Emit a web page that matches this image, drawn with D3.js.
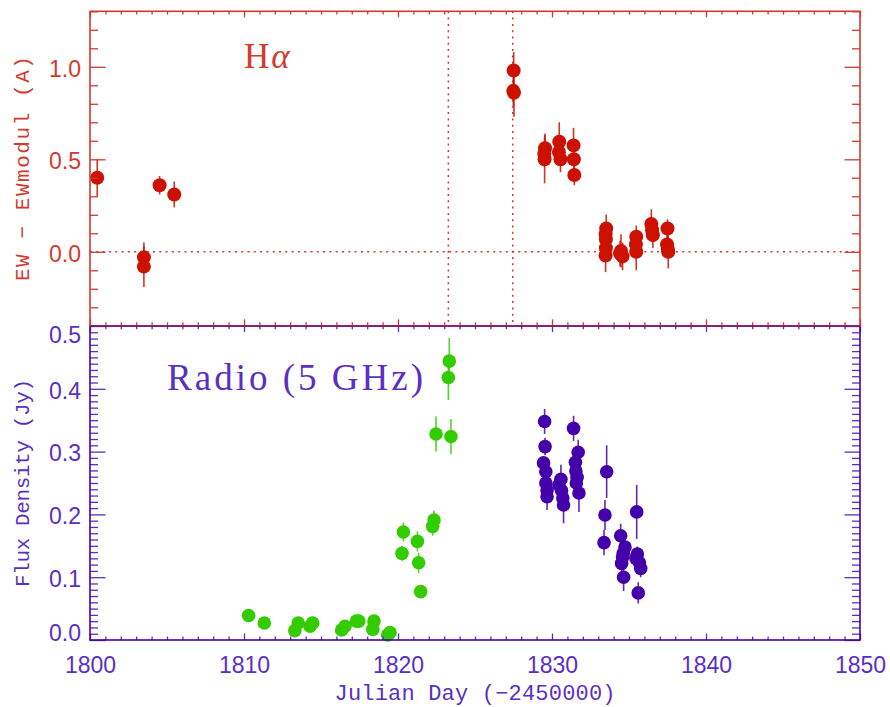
<!DOCTYPE html>
<html><head><meta charset="utf-8">
<script src="https://cdn.jsdelivr.net/npm/d3@7"></script>
<style>body{margin:0;background:#fff} svg{display:block}</style>
</head><body>
<svg id="c" width="890" height="707"></svg>
<script>
// ---------------- data ----------------
// H-alpha: EW - EWmodul (A) vs Julian Day (-2450000)
const haDay = [1800.47, 1803.50, 1803.50, 1804.52, 1805.47,
  1827.51, 1827.49, 1827.53,
  1829.55, 1829.50, 1829.52, 1830.47, 1830.45, 1830.55, 1831.40, 1831.42, 1831.45,
  1833.52, 1833.48, 1833.50, 1833.50, 1833.48, 1834.48, 1834.42, 1834.58,
  1835.47, 1835.45, 1835.47, 1836.45, 1836.50, 1836.55, 1837.50, 1837.47, 1837.52, 1837.55];
const haEW = [0.40, -0.03, -0.08, 0.36, 0.31,
  0.98, 0.87, 0.86,
  0.56, 0.53, 0.50, 0.595, 0.54, 0.50, 0.575, 0.50, 0.415,
  0.126, 0.095, 0.067, 0.02, -0.02, 0.005, -0.01, -0.025,
  0.082, 0.04, 0.0, 0.15, 0.117, 0.09, 0.126, 0.04, 0.015, 0.0];
const haErr = [0.10, 0.08, 0.11, 0.05, 0.07,
  0.10, 0.08, 0.13,
  0.08, 0.07, 0.13, 0.105, 0.06, 0.07, 0.095, 0.06, 0.055,
  0.075, 0.06, 0.06, 0.06, 0.09, 0.09, 0.07, 0.075,
  0.06, 0.06, 0.10, 0.08, 0.05, 0.07, 0.05, 0.05, 0.05, 0.09];

// Radio 5 GHz flux density (Jy), early epoch (green)
const radioEarlyDay = [1810.30, 1811.32, 1813.30, 1813.52, 1814.29, 1814.46, 1816.34, 1816.56,
  1817.30, 1817.45, 1818.36, 1818.44, 1819.33, 1819.48,
  1820.26, 1820.35, 1821.26, 1821.34, 1821.47, 1822.25, 1822.34, 1822.47,
  1823.27, 1823.33, 1823.44];
const radioEarlyFlux = [0.039, 0.027, 0.015, 0.027, 0.022, 0.027, 0.016, 0.022,
  0.030, 0.030, 0.017, 0.030, 0.008, 0.012,
  0.138, 0.172, 0.157, 0.123, 0.077, 0.181, 0.191, 0.328,
  0.418, 0.444, 0.324];
const radioEarlyErr = [0.004, 0.004, 0.004, 0.004, 0.004, 0.004, 0.004, 0.004,
  0.004, 0.004, 0.004, 0.004, 0.004, 0.004,
  0.012, 0.015, 0.016, 0.016, 0.005, 0.015, 0.015, 0.028,
  0.036, 0.037, 0.028];

// Radio 5 GHz flux density (Jy), late epoch (purple)
const radioLateDay = [1829.52, 1829.55, 1829.45, 1829.60, 1829.60, 1829.68, 1829.68,
  1830.58, 1830.45, 1830.62, 1830.70, 1830.75,
  1831.40, 1831.70, 1831.52, 1831.55, 1831.63, 1831.58, 1831.75,
  1833.55, 1833.44, 1833.38,
  1834.46, 1834.74, 1834.63, 1834.58, 1834.52, 1834.65,
  1835.50, 1835.54, 1835.45, 1835.68, 1835.76, 1835.60];
const radioLateFlux = [0.348, 0.308, 0.282, 0.268, 0.250, 0.238, 0.228,
  0.256, 0.247, 0.238, 0.226, 0.215,
  0.337, 0.299, 0.283, 0.269, 0.259, 0.250, 0.234,
  0.268, 0.199, 0.155,
  0.166, 0.148, 0.138, 0.132, 0.122, 0.100,
  0.204, 0.137, 0.130, 0.123, 0.114, 0.075];
const radioLateErr = [0.020, 0.014, 0.010, 0.010, 0.010, 0.010, 0.021,
  0.023, 0.015, 0.015, 0.020, 0.029,
  0.020, 0.020, 0.015, 0.015, 0.015, 0.015, 0.030,
  0.042, 0.024, 0.020,
  0.019, 0.012, 0.012, 0.012, 0.012, 0.022,
  0.043, 0.012, 0.012, 0.012, 0.014, 0.017];

const xTicks = [1800, 1810, 1820, 1830, 1840, 1850];
const haTicks = [0.0, 0.5, 1.0];
const fluxTicks = [0.0, 0.1, 0.2, 0.3, 0.4, 0.5];
const eventDays = [1823.27, 1827.45];

// ---------------- styles ----------------
const RED = "#cc1100", RED_AX = "#d23a2e";
const PUR = "#4400aa", PUR_AX = "#5a2fc2";
const GRN = "#33cc00";
const TICKFONT = "'Liberation Sans', Arial, sans-serif";
const MONO = "'Liberation Mono', 'DejaVu Sans Mono', monospace";
const SERIF = "'Liberation Serif', 'DejaVu Serif', serif";

const svg = d3.select("#c");
const L = 90, R = 860;
const x = d3.scaleLinear().domain([1800, 1850]).range([L, R]);
const yHa = d3.scaleLinear().domain([-0.4, 1.3]).range([325.8, 11.3]);
const yF = d3.scaleLinear().domain([0, 0.5]).range([640, 326]);

function rng(a, b, s) { const o = []; for (let i = Math.round(a / s); i * s <= b + 1e-9; i++) o.push(+(i * s).toFixed(4)); return o; }

function styleAxis(g, col) {
  g.select(".domain").remove();
  g.selectAll(".tick line").attr("stroke", col).attr("stroke-width", 1.3);
  g.selectAll(".tick text").attr("fill", col).attr("font-family", TICKFONT).attr("font-size", 23);
}

function panelAxes(y, yMajor, yMinor, col, showX, labelAdjust) {
  // left major with labels
  const gl = svg.append("g").attr("transform", `translate(${L},0)`)
    .call(d3.axisLeft(y).tickValues(yMajor).tickSizeInner(-15.5).tickSizeOuter(0).tickPadding(9)
      .tickFormat(d3.format(".1f")));
  styleAxis(gl, col);
  gl.selectAll(".tick text").attr("dy", d => labelAdjust(d));
  const glm = svg.append("g").attr("transform", `translate(${L},0)`)
    .call(d3.axisLeft(y).tickValues(yMinor).tickSizeInner(-8).tickSizeOuter(0).tickFormat(""));
  styleAxis(glm, col);
  // right
  const gr = svg.append("g").attr("transform", `translate(${R},0)`)
    .call(d3.axisRight(y).tickValues(yMajor).tickSizeInner(-15.5).tickSizeOuter(0).tickFormat(""));
  styleAxis(gr, col);
  const grm = svg.append("g").attr("transform", `translate(${R},0)`)
    .call(d3.axisRight(y).tickValues(yMinor).tickSizeInner(-8).tickSizeOuter(0).tickFormat(""));
  styleAxis(grm, col);
  const [y0, y1] = y.range(); // bottom, top
  // x ticks bottom & top
  const xMinor = rng(1800, 1850, 1).filter(v => v % 10 !== 0);
  const gb = svg.append("g").attr("transform", `translate(0,${y0})`)
    .call(d3.axisBottom(x).tickValues(xTicks).tickSizeInner(-6.5).tickSizeOuter(0).tickPadding(17)
      .tickFormat(showX ? d3.format("d") : ""));
  styleAxis(gb, col);
  const gbm = svg.append("g").attr("transform", `translate(0,${y0})`)
    .call(d3.axisBottom(x).tickValues(xMinor).tickSizeInner(-3.5).tickSizeOuter(0).tickFormat(""));
  styleAxis(gbm, col);
  const gt = svg.append("g").attr("transform", `translate(0,${y1})`)
    .call(d3.axisTop(x).tickValues(xTicks).tickSizeInner(-6).tickSizeOuter(0).tickFormat(""));
  styleAxis(gt, col);
  const gtm = svg.append("g").attr("transform", `translate(0,${y1})`)
    .call(d3.axisTop(x).tickValues(xMinor).tickSizeInner(-3.3).tickSizeOuter(0).tickFormat(""));
  styleAxis(gtm, col);
}

// ---------------- top panel (H alpha) ----------------
// reference lines
svg.append("line").attr("x1", L).attr("x2", R).attr("y1", yHa(0)).attr("y2", yHa(0))
  .attr("stroke", RED_AX).attr("stroke-width", 1.5).attr("stroke-dasharray", "2,4.3");
svg.selectAll(".evt").data(eventDays).enter().append("line")
  .attr("x1", d => x(d)).attr("x2", d => x(d)).attr("y1", yHa.range()[1]).attr("y2", yHa.range()[0])
  .attr("stroke", RED_AX).attr("stroke-width", 1.5).attr("stroke-dasharray", "2,4.3");

function drawSeries(days, vals, errs, y, col, r) {
  const g = svg.append("g");
  const idx = d3.range(days.length);
  g.selectAll("line").data(idx).enter().append("line")
    .attr("x1", i => x(days[i])).attr("x2", i => x(days[i]))
    .attr("y1", i => y(vals[i] - errs[i])).attr("y2", i => y(vals[i] + errs[i]))
    .attr("stroke", col).attr("stroke-width", 1.6).attr("stroke-opacity", 0.85);
  g.selectAll("circle").data(idx).enter().append("circle")
    .attr("cx", i => x(days[i])).attr("cy", i => y(vals[i])).attr("r", r).attr("fill", col);
}

drawSeries(haDay, haEW, haErr, yHa, RED, 7);
drawSeries(radioEarlyDay, radioEarlyFlux, radioEarlyErr, yF, GRN, 6.8);
drawSeries(radioLateDay, radioLateFlux, radioLateErr, yF, PUR, 6.8);

// axes
panelAxes(yHa, haTicks, rng(-0.4, 1.3, 0.1).filter(v => Math.abs(v * 2 - Math.round(v * 2)) > 1e-6), RED_AX, false,
  d => "0.42em");
panelAxes(yF, fluxTicks, rng(0, 0.5, 0.01).filter(v => Math.abs(v * 10 - Math.round(v * 10)) > 1e-6), PUR_AX, true,
  d => d >= 0.5 ? "0.72em" : (d <= 0 ? "0.02em" : "0.40em"));

// frames
svg.append("rect").attr("x", L).attr("y", yF.range()[1]).attr("width", R - L).attr("height", yF.range()[0] - yF.range()[1])
  .attr("fill", "none").attr("stroke", PUR).attr("stroke-width", 1.6);
svg.append("rect").attr("x", L).attr("y", yHa.range()[1]).attr("width", R - L).attr("height", yHa.range()[0] - yHa.range()[1])
  .attr("fill", "none").attr("stroke", RED_AX).attr("stroke-width", 1.6);
svg.append("line").attr("x1", L).attr("x2", R).attr("y1", yF.range()[1]).attr("y2", yF.range()[1])
  .attr("stroke", PUR).attr("stroke-width", 1.6).attr("stroke-opacity", 0.55);

// ---------------- texts ----------------
const ha = svg.append("text").attr("x", 244).attr("y", 67.5).attr("fill", RED_AX)
  .attr("font-family", SERIF).attr("font-size", 35);
ha.append("tspan").text("H");
ha.append("tspan").attr("font-style", "italic").attr("dx", 2).text("α");

svg.append("text").attr("x", 167).attr("y", 390).attr("fill", PUR_AX)
  .attr("font-family", SERIF).attr("font-size", 37)
  .attr("textLength", 256).attr("lengthAdjust", "spacing").text("Radio (5 GHz)");

svg.append("text").attr("transform", `translate(29,${(yHa.range()[0] + yHa.range()[1]) / 2}) rotate(-90)`)
  .attr("text-anchor", "middle").attr("fill", RED_AX).attr("font-family", MONO).attr("font-size", 21)
  .attr("textLength", 225).attr("lengthAdjust", "spacing").text("EW − EWmodul (A)");

svg.append("text").attr("transform", `translate(29,${(yF.range()[0] + yF.range()[1]) / 2}) rotate(-90)`)
  .attr("text-anchor", "middle").attr("fill", PUR_AX).attr("font-family", MONO).attr("font-size", 21)
  .attr("textLength", 208).attr("lengthAdjust", "spacing").text("Flux Density (Jy)");

svg.append("text").attr("x", (L + R) / 2).attr("y", 700).attr("text-anchor", "middle")
  .attr("fill", PUR_AX).attr("font-family", MONO).attr("font-size", 22)
  .attr("textLength", 281).attr("lengthAdjust", "spacing").text("Julian Day (−2450000)");
</script>
</body></html>
